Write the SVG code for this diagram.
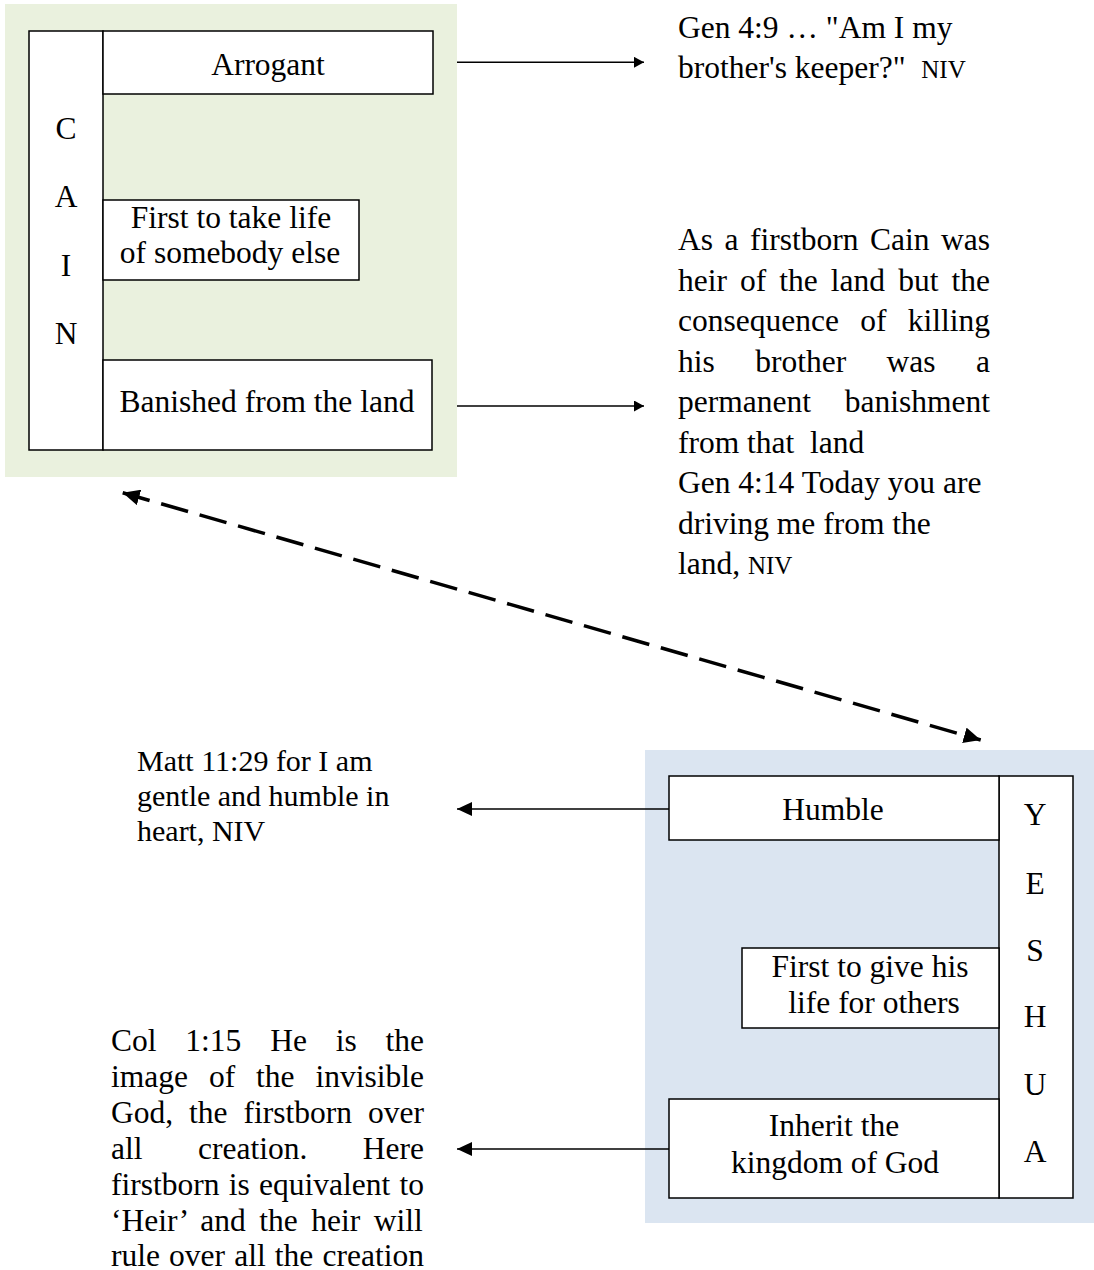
<svg xmlns="http://www.w3.org/2000/svg" width="1094" height="1270" viewBox="0 0 1094 1270">
<style>
text{font-family:"Liberation Serif","Times New Roman",serif;font-size:31.5px;fill:#000}
.c{text-anchor:middle}
.s{font-size:30px}
.niv{font-size:25px}
.box{fill:#fff;stroke:#000;stroke-width:1.5}
.conn{stroke:#000;stroke-width:1.5;fill:none}
.dash{stroke:#000;stroke-width:3.5;fill:none;stroke-dasharray:28 12}
</style>
<defs>
<marker id="arrS" markerUnits="userSpaceOnUse" markerWidth="10" markerHeight="11" refX="10" refY="5.5" orient="auto"><path d="M0,0 L10,5.5 L0,11 z" fill="#000"/></marker>
<marker id="arrM" markerUnits="userSpaceOnUse" markerWidth="15" markerHeight="14" refX="15" refY="7" orient="auto"><path d="M0,0 L15,7 L0,14 z" fill="#000"/></marker>
<marker id="arrD" markerUnits="userSpaceOnUse" markerWidth="17" markerHeight="16" refX="17" refY="8" orient="auto-start-reverse"><path d="M0,0 L17,8 L0,16 z" fill="#000"/></marker>
</defs>
<rect x="5" y="4" width="452" height="473" fill="#EAF1DE"/>
<rect x="645" y="750" width="449" height="473" fill="#DBE5F1"/>
<g id="cain">
<rect class="box" x="29" y="31" width="74" height="419"/>
<text class="c" x="66" y="139">C</text>
<text class="c" x="66" y="207">A</text>
<text class="c" x="66" y="276">I</text>
<text class="c" x="66" y="344">N</text>
</g>
<g id="arrogant">
<rect class="box" x="103" y="31" width="330" height="63"/>
<text class="c" x="268" y="75">Arrogant</text>
</g>
<g id="first-take">
<rect class="box" x="103" y="200" width="256" height="80"/>
<text class="c" x="231" y="228">First to take life</text>
<text class="c" x="230" y="263">of somebody else</text>
</g>
<g id="banished">
<rect class="box" x="103" y="360" width="329" height="90"/>
<text class="c" x="267" y="412">Banished from the land</text>
</g>
<g id="yeshua">
<rect class="box" x="999" y="776" width="74" height="422"/>
<text class="c" x="1035" y="825">Y</text>
<text class="c" x="1035" y="894">E</text>
<text class="c" x="1035" y="961">S</text>
<text class="c" x="1035" y="1027">H</text>
<text class="c" x="1035" y="1095">U</text>
<text class="c" x="1035" y="1162">A</text>
</g>
<g id="humble">
<rect class="box" x="669" y="776" width="330" height="64"/>
<text class="c" x="833" y="820">Humble</text>
</g>
<g id="first-give">
<rect class="box" x="742" y="948" width="257" height="80"/>
<text class="c" x="870" y="977">First to give his</text>
<text class="c" x="874" y="1013">life for others</text>
</g>
<g id="inherit">
<rect class="box" x="669" y="1099" width="330" height="99"/>
<text class="c" x="834" y="1136">Inherit the</text>
<text class="c" x="835" y="1173">kingdom of God</text>
</g>
<g id="note-gen49">
<text x="678" y="38">Gen 4:9 … "Am I my</text>
<text x="678" y="78" style="white-space:pre">brother's keeper?"  <tspan class="niv">NIV</tspan></text>
</g>
<g id="note-banish">
<text x="678" y="250" word-spacing="3.64">As a firstborn Cain was</text>
<text x="678" y="290.5" word-spacing="5.18">heir of the land but the</text>
<text x="678" y="331" word-spacing="13.4">consequence of killing</text>
<text x="678" y="371.5" word-spacing="32.56">his brother was a</text>
<text x="678" y="412" word-spacing="25.9">permanent banishment</text>
<text x="678" y="452.5" style="white-space:pre">from that  land</text>
<text x="678" y="493">Gen 4:14 Today you are</text>
<text x="678" y="533.5">driving me from the</text>
<text x="678" y="574">land, <tspan class="niv">NIV</tspan></text>
</g>
<g id="note-matt">
<text class="s" x="137" y="771">Matt 11:29 for I am</text>
<text class="s" x="137" y="806">gentle and humble in</text>
<text class="s" x="137" y="841">heart, NIV</text>
</g>
<g id="note-col">
<text x="111" y="1051" word-spacing="20.94">Col 1:15 He is the</text>
<text x="111" y="1087" word-spacing="13.05">image of the invisible</text>
<text x="111" y="1123" word-spacing="8.1">God, the firstborn over</text>
<text x="111" y="1159" word-spacing="47.6">all creation. Here</text>
<text x="111" y="1195" word-spacing="1.38">firstborn is equivalent to</text>
<text x="111" y="1231" word-spacing="5.64">‘Heir’ and the heir will</text>
<text x="111" y="1266" word-spacing="1.27">rule over all the creation</text>
</g>
<g id="connectors">
<line class="conn" x1="457" y1="62.3" x2="644" y2="62.3" marker-end="url(#arrS)"/>
<line class="conn" x1="457" y1="406" x2="644" y2="406" marker-end="url(#arrS)"/>
<line class="conn" x1="669" y1="809" x2="457" y2="809" marker-end="url(#arrM)"/>
<line class="conn" x1="669" y1="1149" x2="457" y2="1149" marker-end="url(#arrM)"/>
<line class="dash" x1="122.7" y1="492.7" x2="980.7" y2="740" marker-start="url(#arrD)" marker-end="url(#arrD)"/>
</g>
</svg>
